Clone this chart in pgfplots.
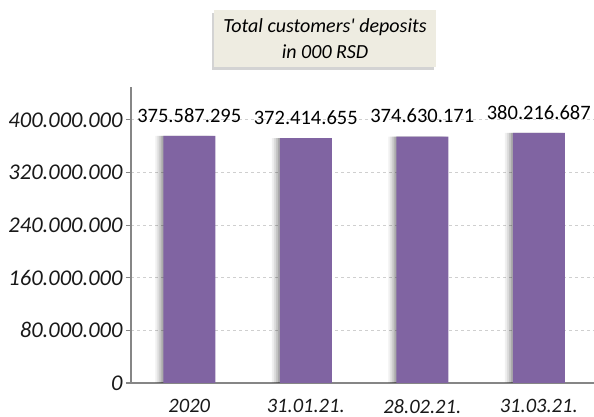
\documentclass[border=0pt]{standalone}
\usepackage{fontspec}
\setmainfont{Carlito}
\usepackage{pgfplots}
\usepackage{pgfplotstable}
\pgfplotsset{compat=1.18}
\usetikzlibrary{shadows}
\definecolor{barpurple}{HTML}{8064A2}
\definecolor{axisgray}{HTML}{868686}
\definecolor{gridgray}{HTML}{CFCFCF}
\definecolor{boxbeige}{HTML}{EEECE1}

\pgfplotstableread{
x y label
0 375587295 375.587.295
1 372414655 372.414.655
2 374630171 374.630.171
3 380216687 380.216.687
}\deposits

\begin{document}
\begin{tikzpicture}[x=1pt,y=1pt]
\path[use as bounding box] (0,0) rectangle (594,417);
\begin{axis}[
  at={(131pt,34pt)}, anchor=south west,
  scale only axis, width=466pt, height=296pt,
  xmin=-0.5, xmax=3.5, ymin=0, ymax=450000000,
  axis lines*=left,
  axis line style={axisgray, line width=1.2pt},
  tick style={axisgray, line width=1.2pt},
  tick align=outside,
  scaled y ticks=false,
  ytick={0,80000000,160000000,240000000,320000000,400000000},
  yticklabels={0,80.000.000,160.000.000,240.000.000,320.000.000,400.000.000},
  y tick label style={font=\fontsize{22.5}{24}\selectfont\itshape, text=black!90},
  ymajorgrids,
  grid style={gridgray, dashed, line width=0.8pt},
  major tick length=5pt,
  xtick={0,1,2,3},
  xticklabels={2020,31.01.21.,28.02.21.,31.03.21.},
  x tick label style={font=\fontsize{20.5}{24}\selectfont\itshape, text=black!90, yshift=-7.5pt},
  xtick style={draw=none},
  extra x ticks={-0.5,0.5,1.5,2.5,3.5},
  extra x tick labels={},
  extra x tick style={grid=none, tick style={axisgray, line width=1.2pt, draw=axisgray}},
  clip=false,
]
\addplot[ybar, bar width=52pt, fill=barpurple, draw=none,
  preaction={fill=black, fill opacity=0.06, draw=none, transform canvas={xshift=-8pt}},
  preaction={fill=black, fill opacity=0.08, draw=none, transform canvas={xshift=-6pt}},
  preaction={fill=black, fill opacity=0.10, draw=none, transform canvas={xshift=-4pt}},
  preaction={fill=black, fill opacity=0.14, draw=none, transform canvas={xshift=-2pt}},
  nodes near coords, point meta=explicit symbolic,
  every node near coord/.append style={font=\fontsize{20.5}{22}\selectfont, text=black, yshift=10pt}]
  table[x=x, y=y, meta=label]{\deposits};
\end{axis}
\node[fill=boxbeige, drop shadow={shadow xshift=-2pt, shadow yshift=-3pt, opacity=0.35},
  align=center, font=\fontsize{20}{26}\selectfont\itshape,
  minimum width=222pt, minimum height=57pt, inner sep=2pt]
  at (325,378.5) {Total customers\textquotesingle\ deposits\\in 000 RSD};
\end{tikzpicture}
\end{document}
